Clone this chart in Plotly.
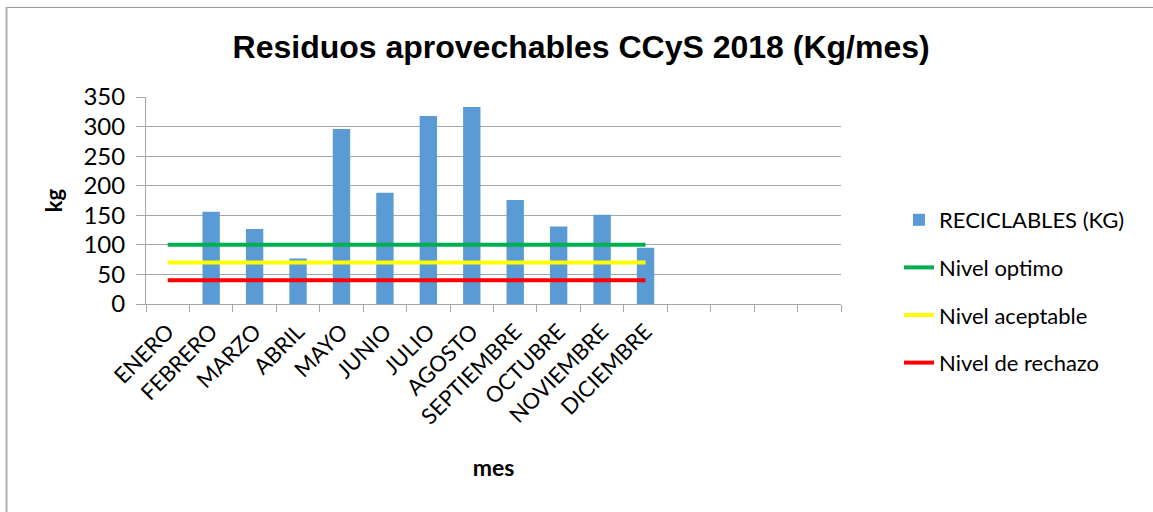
import plotly.graph_objects as go

# Monthly recyclable waste, kg
months = ["ENERO", "FEBRERO", "MARZO", "ABRIL", "MAYO", "JUNIO", "JULIO",
          "AGOSTO", "SEPTIEMBRE", "OCTUBRE", "NOVIEMBRE", "DICIEMBRE"]
reciclables = [0, 156, 127, 77, 296, 188, 318, 333, 176, 131, 151, 95]

# Reference levels, kg
nivel_optimo = 100
nivel_aceptable = 70
nivel_rechazo = 40

# Four unused slots after December keep the category axis wide
empty_slots = [" " * (i + 1) for i in range(4)]
categories = months + empty_slots

W, H = 1153, 512
L, R, T, B = 146, 312, 97, 208
pw, ph = W - L - R, H - T - B

text_font = "Lato, Carlito, 'Open Sans', sans-serif"
grid_col = "#a6a6a6"

fig = go.Figure()

fig.add_trace(go.Bar(
    x=months, y=reciclables, name="RECICLABLES (KG)",
    marker=dict(color="#5b9bd5", line=dict(width=0)),
    width=0.4,
    legendgroup="a",
))

for name, level, color, grp in [
    ("Nivel optimo", nivel_optimo, "#00b050", "b"),
    ("Nivel aceptable", nivel_aceptable, "#ffff00", "c"),
    ("Nivel de rechazo", nivel_rechazo, "#ff0000", "d"),
]:
    fig.add_trace(go.Scatter(
        x=months, y=[level] * len(months), mode="lines", name=name,
        line=dict(color=color, width=4), legendgroup=grp,
    ))

# Invisible trace so the unused slots stay on the axis
fig.add_trace(go.Bar(x=empty_slots, y=[None] * len(empty_slots), showlegend=False,
                     hoverinfo="skip", marker=dict(color="rgba(0,0,0,0)")))


def px_to_paper_x(px):
    return (px - L) / pw


def px_to_paper_y(py):
    return (H - B - py) / ph


# Chart-area frame: top and left edges
shapes = [
    dict(type="line", xref="paper", yref="paper",
         x0=px_to_paper_x(6), x1=px_to_paper_x(W), y0=px_to_paper_y(7.5), y1=px_to_paper_y(7.5),
         line=dict(color="#999999", width=1), layer="below"),
    dict(type="line", xref="paper", yref="paper",
         x0=px_to_paper_x(6.5), x1=px_to_paper_x(6.5), y0=px_to_paper_y(7), y1=px_to_paper_y(H + 5),
         line=dict(color="#b0b0b0", width=2), layer="below"),
]

fig.update_layout(
    width=W, height=H,
    margin=dict(l=L, r=R, t=T, b=B, autoexpand=False),
    paper_bgcolor="white", plot_bgcolor="white",
    showlegend=True,
    title=dict(
        text="<b>Residuos aprovechables CCyS 2018 (Kg/mes)</b>",
        font=dict(family="'Liberation Sans', Arial, sans-serif", size=32, color="black"),
        x=0.504, xanchor="center", xref="container",
        y=1 - 47 / H, yanchor="middle", yref="container",
    ),
    xaxis=dict(
        type="category", categoryorder="array", categoryarray=categories,
        range=[-0.5, len(categories) - 0.5],
        tickson="boundaries", ticks="outside", ticklen=7, tickcolor=grid_col, tickwidth=1,
        showline=True, linecolor=grid_col, linewidth=1,
        showgrid=False, tickangle=-45,
        ticklabelstandoff=5,
        tickfont=dict(family=text_font, size=22, color="black"),
        title=dict(text="<b>mes</b>", font=dict(family=text_font, size=23, color="black"), standoff=31),
        fixedrange=True,
    ),
    yaxis=dict(
        range=[0, 350], dtick=50, tick0=0,
        ticks="outside", ticklen=9, tickcolor=grid_col, tickwidth=1,
        showline=True, linecolor=grid_col, linewidth=1,
        showgrid=True, gridcolor=grid_col, gridwidth=1,
        zeroline=False,
        tickfont=dict(family=text_font, size=24, color="black"),
        ticklabelstandoff=6,
        title=dict(text="<b>kg</b>", font=dict(family=text_font, size=22, color="black"), standoff=14),
        fixedrange=True,
    ),
    legend=dict(
        x=px_to_paper_x(899), xanchor="left",
        y=px_to_paper_y(199), yanchor="top",
        font=dict(family=text_font, size=22, color="black"),
        tracegroupgap=16,
        bgcolor="rgba(0,0,0,0)",
        traceorder="grouped",
    ),
    shapes=shapes,
)

fig.write_html("out.html", config={"displayModeBar": False})
